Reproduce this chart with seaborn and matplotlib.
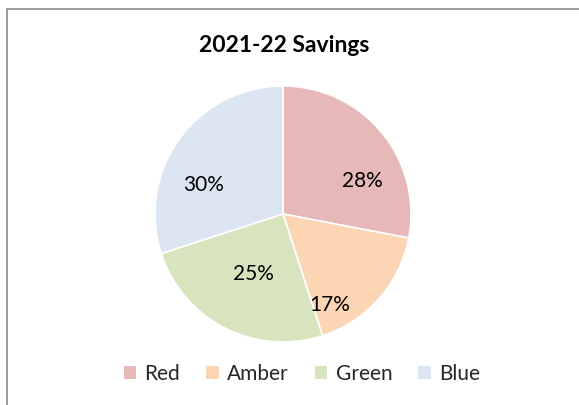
import matplotlib
matplotlib.use("Agg")
import matplotlib.pyplot as plt
from matplotlib.patches import Patch
from matplotlib.lines import Line2D
import seaborn as sns

categories = ["Red", "Amber", "Green", "Blue"]
values = [28, 17, 25, 30]
colors = ["#E6B9B8", "#FCD5B5", "#D7E4BD", "#DCE6F2"]
title = "2021-22 Savings"

# label placement (layout, in pie-radius units) mimicking the original best-fit placement
label_xy = [(0.617, 0.258), (0.367, -0.711), (-0.234, -0.465), (-0.621, 0.230)]

sns.set_theme(style="white")
plt.rcParams['font.family'] = ['Lato', 'DejaVu Sans']

W, H = 579, 405
fig = plt.figure(figsize=(W / 100, H / 100), dpi=100)
fig.patch.set_facecolor("white")

cx, cy, r = 283, 214, 128
ax = fig.add_axes([(cx - r) / W, (H - cy - r) / H, 2 * r / W, 2 * r / H])
wedges, texts, autotexts = ax.pie(
    values, colors=colors, startangle=90, counterclock=False,
    autopct=lambda p: f"{p:.0f}%", pctdistance=0.66,
    wedgeprops=dict(edgecolor="white", linewidth=1.2),
    textprops=dict(fontsize=15, color="#000000"))
for t, pos in zip(autotexts, label_xy):
    t.set_position(pos)
    t.set_va("center")
    t.set_ha("center")
ax.set_xlim(-1, 1)
ax.set_ylim(-1, 1)
ax.set_aspect("equal")
ax.axis("off")

fig.text(284 / W, 1 - 46 / H, title, ha="center", va="center",
         fontsize=16.5, fontweight="bold", color="#000000")

handles = [Patch(facecolor=c, edgecolor="none") for c in colors]
fig.legend(handles, categories, loc="center", bbox_to_anchor=(302 / W, 1 - 374 / H),
           ncol=4, frameon=False, fontsize=15, handlelength=0.6, handleheight=0.6,
           handletextpad=0.4, columnspacing=1.25)

# outer chart border (top and left visible; right/bottom cropped)
bx, by = 7.5 / W, 1 - 8.5 / H
fig.add_artist(Line2D([bx, 1.01], [by, by], transform=fig.transFigure, color="#8c8c8c", lw=1.2))
fig.add_artist(Line2D([bx, bx], [by, -0.01], transform=fig.transFigure, color="#8c8c8c", lw=1.2))

fig.savefig("out.png", dpi=100, facecolor="white")
